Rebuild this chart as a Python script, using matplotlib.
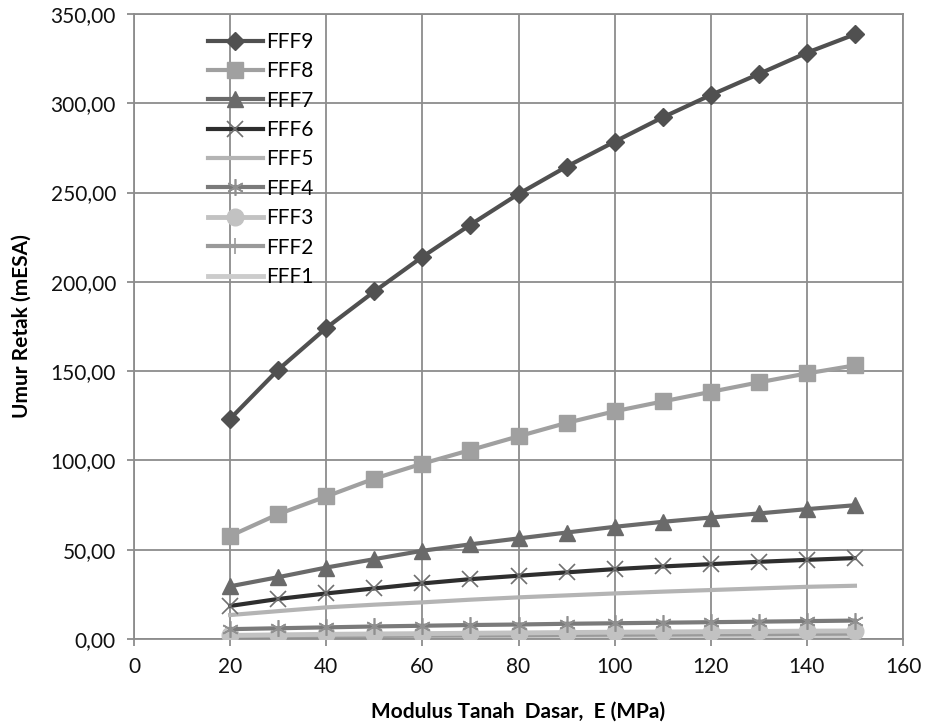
import matplotlib
matplotlib.use("Agg")
import matplotlib.pyplot as plt
from matplotlib.ticker import FuncFormatter, MultipleLocator

plt.rcParams['font.family'] = ['Lato', 'DejaVu Sans']

# modulus tanah dasar E (MPa)
E = [20, 30, 40, 50, 60, 70, 80, 90, 100, 110, 120, 130, 140, 150]

fff9 = [123.3, 150.8, 174.2, 194.6, 214.0, 232.0, 249.2, 264.5, 278.5, 292.1, 304.6, 316.4, 328.3, 338.6]
fff8 = [57.7, 69.9, 79.8, 89.8, 98.2, 105.8, 113.5, 121.0, 127.5, 133.0, 138.4, 143.7, 148.7, 153.2]
fff7 = [29.5, 34.6, 40.0, 44.7, 49.4, 53.0, 56.3, 59.6, 62.8, 65.6, 68.0, 70.3, 72.7, 74.9]
fff6 = [18.5, 22.4, 25.5, 28.3, 31.1, 33.5, 35.4, 37.3, 39.1, 40.6, 41.9, 43.2, 44.3, 45.3]
fff5 = [13.4, 15.6, 17.7, 19.2, 20.5, 22.0, 23.3, 24.4, 25.5, 26.5, 27.4, 28.3, 29.2, 29.8]
fff4 = [5.5, 6.0, 6.5, 7.0, 7.4, 7.8, 8.1, 8.5, 8.8, 9.1, 9.4, 9.7, 10.0, 10.3]
fff3 = [2.0, 2.3, 2.6, 2.8, 3.0, 3.2, 3.4, 3.6, 3.8, 3.9, 4.1, 4.2, 4.4, 4.5]
fff2 = [1.2, 1.4, 1.6, 1.7, 1.9, 2.0, 2.1, 2.3, 2.4, 2.5, 2.6, 2.7, 2.9, 3.0]
fff1 = [0.6, 0.7, 0.8, 0.9, 0.9, 1.0, 1.1, 1.1, 1.2, 1.3, 1.3, 1.4, 1.4, 1.5]

fig = plt.figure(figsize=(9.27, 7.28), dpi=100)
ax = fig.add_axes([0.1446, 0.1223, 0.8295, 0.8585])

# order matches legend (FFF9 on top)
ax.plot(E, fff9, color='#505050', lw=3, marker='D', ms=9, label='FFF9', zorder=9)
ax.plot(E, fff8, color='#a0a0a0', lw=3, marker='s', ms=12, label='FFF8', zorder=8)
ax.plot(E, fff7, color='#6a6a6a', lw=3, marker='^', ms=12, label='FFF7', zorder=7)
ax.plot(E, fff6, color='#2e2e2e', lw=3, marker='x', ms=12, mec='#707070', mew=1.2,
        label='FFF6', zorder=6)
ax.plot(E, fff5, color='#b4b4b4', lw=3, label='FFF5', zorder=5)
ax.plot(E, fff4, color='#7a7a7a', lw=3, marker=(6, 2, 0), ms=12, mec='#909090', mew=1.2,
        label='FFF4', zorder=4)
ax.plot(E, fff3, color='#c2c2c2', lw=3.5, marker='o', ms=12, label='FFF3', zorder=3)
ax.plot(E, fff2, color='#9a9a9a', lw=3, marker='|', ms=12, mew=1.2, label='FFF2', zorder=2)
ax.plot(E, fff1, color='#cccccc', lw=3.5, label='FFF1', zorder=1)

ax.set_xlim(0, 160)
ax.set_ylim(0, 350)
ax.xaxis.set_major_locator(MultipleLocator(20))
ax.yaxis.set_major_locator(MultipleLocator(50))
ax.yaxis.set_major_formatter(FuncFormatter(lambda v, p: f"{v:.2f}".replace('.', ',')))

ax.grid(True, color='#8c8c8c', lw=1.3)
ax.set_axisbelow(True)
for s in ax.spines.values():
    s.set_color('#8c8c8c')
    s.set_linewidth(1.3)
ax.tick_params(direction='out', length=5, width=1.3, color='#8c8c8c',
               labelsize=15, labelcolor='#111111', pad=8)

ax.set_xlabel('Modulus Tanah  Dasar,  E (MPa)', fontsize=15, fontweight='bold', labelpad=18)
ax.set_ylabel('Umur Retak (mESA)', fontsize=15, fontweight='bold', labelpad=14)

ax.legend(loc='upper left', bbox_to_anchor=(0.075, 0.998), frameon=False, fontsize=15,
          handlelength=2.6, handletextpad=0.15, labelspacing=0.45, borderpad=0.3)

fig.savefig('out.png', dpi=100)
